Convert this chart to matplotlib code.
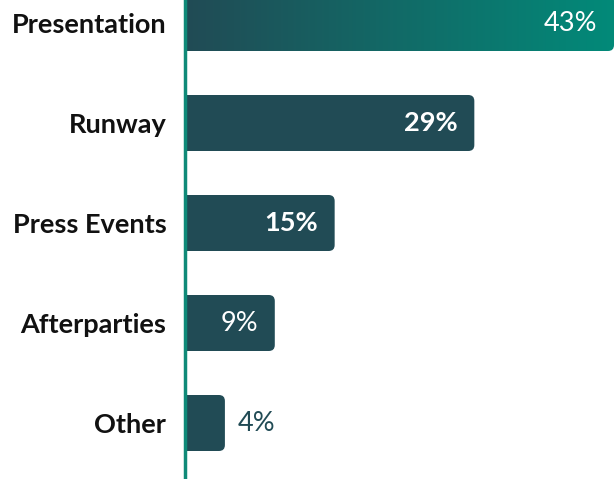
import numpy as np
import matplotlib.pyplot as plt
from matplotlib.patches import FancyBboxPatch
from matplotlib.colors import LinearSegmentedColormap

# data
categories = ['Presentation', 'Runway', 'Press Events', 'Afterparties', 'Other']
values = [43, 29, 15, 9, 4]
labels = ['43%', '29%', '15%', '9%', '4%']
label_weights = ['normal', 'bold', 'bold', 'normal', 'normal']

plt.rcParams['font.family'] = ['Lato', 'DejaVu Sans']

dark = '#214b55'
green = '#028a79'
axis_col = '#0f8a78'

fig = plt.figure(figsize=(6.15, 4.79), dpi=100)
ax_left = 185 / 615
ax = fig.add_axes([ax_left, 0, 1 - ax_left, 1])

xmax = 43.1
ax.set_xlim(0, xmax)
ax.set_ylim(4.56, -0.23)

px_x = (615 * (1 - ax_left)) / xmax   # pixels per x unit
px_y = 100.0                           # pixels per category
bar_h = 0.56
radius_px = 6

for i, (v, lab, w) in enumerate(zip(values, labels, label_weights)):
    box = FancyBboxPatch((-2, i - bar_h / 2), v + 2, bar_h,
                         boxstyle=f"round,pad=0,rounding_size={radius_px / px_x}",
                         mutation_aspect=px_x / px_y,
                         facecolor=dark, edgecolor='none', zorder=2)
    ax.add_patch(box)
    if i == 0:
        # gradient fill for the leading bar
        cmap = LinearSegmentedColormap.from_list('tg', [dark, green])
        grad = np.linspace(0, 1, 256).reshape(1, -1)
        im = ax.imshow(grad, cmap=cmap, aspect='auto',
                       extent=(0, v, i + bar_h / 2, i - bar_h / 2), zorder=3)
        im.set_clip_path(box)
        box.set_facecolor('none')
    if v >= 8:
        ax.text(v - 17 / px_x, i, lab, ha='right', va='center', color='white',
                fontsize=19.5, fontweight=w, zorder=4)
    else:
        ax.text(v + 13 / px_x, i, lab, ha='left', va='center', color=dark,
                fontsize=19.5, fontweight=w, zorder=4)

ax.set_xlim(0, xmax)
ax.set_ylim(4.56, -0.23)
ax.set_yticks(range(len(categories)))
ax.set_yticklabels(categories, fontsize=19.5, fontweight='bold', color='#111111')
ax.tick_params(axis='y', length=0, pad=13.5)
ax.set_xticks([])
for s in ['top', 'right', 'bottom']:
    ax.spines[s].set_visible(False)
ax.spines['left'].set_color(axis_col)
ax.spines['left'].set_linewidth(2.5)
ax.spines['left'].set_zorder(5)

fig.savefig('out.png', dpi=100)
